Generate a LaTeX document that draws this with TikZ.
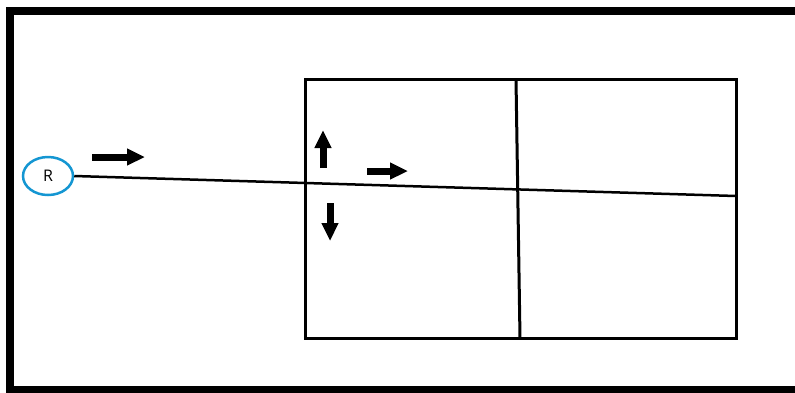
\documentclass[tikz,border=0pt]{standalone}
\usepackage{fontspec}
\setmainfont{Open Sans}
\usetikzlibrary{arrows.meta,shapes.geometric}
\definecolor{rblue}{RGB}{20,150,210}
\tikzset{
  gridline/.style={line width=3pt, black},
  blockarrow/.style={line width=7pt, -{Triangle[length=18pt,width=16pt]}},
}
\begin{document}
\begin{tikzpicture}[x=1pt,y=-1pt]
\useasboundingbox (0,0) rectangle (795,392);
\begin{scope}
\clip (0,0) rectangle (795,392);
\draw[line width=8pt] (10,11) rectangle (810,390);
\end{scope}
% grid
\coordinate (tl) at (305,79);
\coordinate (br) at (736,338);
\draw[gridline] (tl) rectangle (br);
\coordinate (mt) at (516,79);
\coordinate (mb) at (520,338);
\draw[gridline] (mt) -- (mb);
% R node
\node[ellipse, draw=rblue, line width=2.5pt, minimum width=50pt, minimum height=38pt, inner sep=0pt, font=\fontsize{16}{16}\selectfont] (R) at (48,176) {R};
\coordinate (re) at (736,196);
\draw[gridline, line width=2.5pt] (R.east) -- (re);
% arrows
\coordinate (a1s) at (92,157); \coordinate (a1e) at (145,157);
\draw[blockarrow] (a1s) -- (a1e);
\coordinate (a2s) at (323,168); \coordinate (a2e) at (323,130);
\draw[blockarrow] (a2s) -- (a2e);
\coordinate (a3s) at (367,171); \coordinate (a3e) at (408,171);
\draw[blockarrow] (a3s) -- (a3e);
\coordinate (a4s) at (330,203); \coordinate (a4e) at (330,241);
\draw[blockarrow] (a4s) -- (a4e);
\end{tikzpicture}
\end{document}
